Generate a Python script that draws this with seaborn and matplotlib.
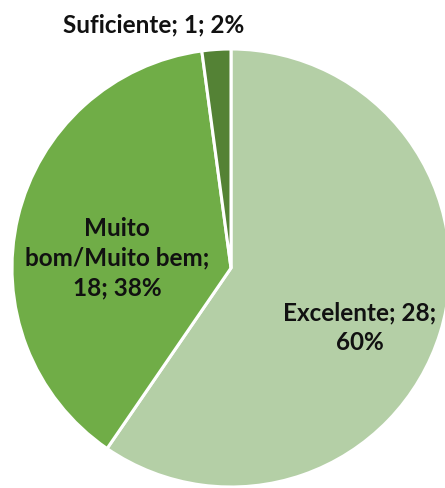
import matplotlib
matplotlib.use("Agg")
import matplotlib.pyplot as plt
import seaborn as sns

sns.set_theme(style="white")
plt.rcParams["font.family"] = ["Lato", "DejaVu Sans"]

categories = ["Excelente", "Muito bom/Muito bem", "Suficiente"]
counts = [28, 18, 1]
percents = [60, 38, 2]
colors = ["#b4cfa6", "#70ad47", "#548235"]

W, H = 445, 489
fig = plt.figure(figsize=(W / 100, H / 100), dpi=100)
ax = fig.add_axes([0, 0, 1, 1])

cx, cy, r = 231, H - 269, 219
ax.pie(counts, colors=colors, startangle=90, counterclock=False,
       center=(cx, cy), radius=r, frame=True,
       wedgeprops=dict(edgecolor="white", linewidth=2.2))
ax.set_xlim(0, W)
ax.set_ylim(0, H)
ax.axis("off")

labels = [
    f"{categories[0]}; {counts[0]};\n{percents[0]}%",
    "Muito\nbom/Muito bem;\n" + f"{counts[1]}; {percents[1]}%",
    f"{categories[2]}; {counts[2]}; {percents[2]}%",
]
label_pos = [(360, H - 328), (117, H - 258), (154, H - 25)]
for text, (x, y) in zip(labels, label_pos):
    ax.text(x, y, text, ha="center", va="center", fontsize=17.5,
            fontweight="bold", color="#111111", linespacing=1.35)

fig.savefig("out.png", dpi=100)
